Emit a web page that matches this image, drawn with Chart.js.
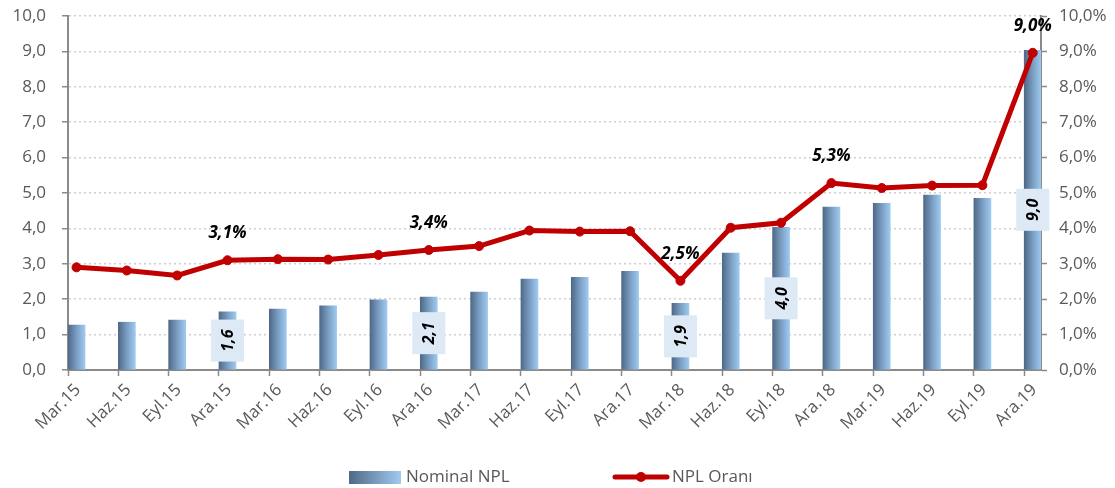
<!DOCTYPE html>
<html><head><meta charset="utf-8">
<script src="https://cdn.jsdelivr.net/npm/chart.js@4.4.1/dist/chart.umd.min.js"></script>
<style>html,body{margin:0;padding:0;background:#fff}#wrap{width:1115px;height:488px;position:relative}</style>
</head><body><div id="wrap"><canvas id="c" width="1115" height="488"></canvas></div>
<script>
const categories = ['Mar.15','Haz.15','Eyl.15','Ara.15','Mar.16','Haz.16','Eyl.16','Ara.16','Mar.17','Haz.17','Eyl.17','Ara.17','Mar.18','Haz.18','Eyl.18','Ara.18','Mar.19','Haz.19','Eyl.19','Ara.19'];
const nominalNPL = [1.27,1.35,1.41,1.64,1.72,1.81,1.98,2.06,2.20,2.57,2.62,2.79,1.88,3.30,4.03,4.60,4.71,4.94,4.85,9.03];
const nplRatio = [2.90,2.81,2.67,3.10,3.13,3.12,3.25,3.39,3.50,3.94,3.91,3.92,2.52,4.02,4.16,5.28,5.14,5.21,5.22,8.96];
const barLabelIdx = [3,7,12,14,19];
const lineLabelIdx = [3,7,12,15,19];
const leftTickLabels = ['0,0','1,0','2,0','3,0','4,0','5,0','6,0','7,0','8,0','9,0','10,0'];
const rightTickLabels = ['0,0%','1,0%','2,0%','3,0%','4,0%','5,0%','6,0%','7,0%','8,0%','9,0%','10,0%'];
const seriesNames = ['Nominal NPL','NPL Oranı'];

const BAR_OFFSET = 0.169;   // bars sit just right of each date tick
const X_MAX = 58 / 3;       // date axis: last quarter + one month
const RED = '#c00000';
const GRAY_TEXT = '#595959';
const AXIS = '#8a8a8a';
const fmt = v => v.toFixed(1).replace('.', ',');

Chart.defaults.font.family = '"Open Sans", sans-serif';
Chart.defaults.font.size = 17;
Chart.defaults.color = GRAY_TEXT;

function barGradient(ctx, x) {
  const g = ctx.createLinearGradient(x - 8.5, 0, x + 8.5, 0);
  g.addColorStop(0, '#4f6987');
  g.addColorStop(0.5, '#7a9dc2');
  g.addColorStop(1, '#9fcaf0');
  return g;
}

const labelPlugin = {
  id: 'labelsAndLegend',
  afterDatasetsDraw(chart) {
    const ctx = chart.ctx;
    const barMeta = chart.getDatasetMeta(0);
    const lineMeta = chart.getDatasetMeta(1);
    ctx.save();
    barLabelIdx.forEach(i => {
      const el = barMeta.data[i];
      const cx = el.x, cy = (el.y + el.base) / 2;
      ctx.fillStyle = '#dde9f5';
      ctx.fillRect(cx - 16.5, cy - 21, 33, 42);
      ctx.save();
      ctx.translate(cx, cy);
      ctx.rotate(-Math.PI / 2);
      ctx.fillStyle = '#000';
      ctx.font = 'italic bold 16px "Open Sans"';
      ctx.textAlign = 'center';
      ctx.textBaseline = 'middle';
      ctx.fillText(fmt(nominalNPL[i]), 0, 1);
      ctx.restore();
    });
    lineLabelIdx.forEach(i => {
      const el = lineMeta.data[i];
      ctx.fillStyle = '#000';
      ctx.font = 'italic bold 17px "Open Sans"';
      ctx.textAlign = 'center';
      ctx.textBaseline = 'middle';
      ctx.fillText(fmt(nplRatio[i]) + '%', el.x, el.y - 27);
    });
    ctx.restore();
  },
  afterDraw(chart) {
    const ctx = chart.ctx;
    ctx.save();
    const g = ctx.createLinearGradient(349, 0, 401, 0);
    g.addColorStop(0, '#4f6987');
    g.addColorStop(1, '#9fcaf0');
    ctx.fillStyle = g;
    ctx.fillRect(349, 471, 52, 13);
    ctx.font = '17px "Open Sans"';
    ctx.fillStyle = GRAY_TEXT;
    ctx.textBaseline = 'middle';
    ctx.textAlign = 'left';
    ctx.fillText(seriesNames[0], 406, 477);
    ctx.strokeStyle = RED;
    ctx.lineWidth = 5;
    ctx.lineCap = 'round';
    ctx.beginPath(); ctx.moveTo(615, 477); ctx.lineTo(667, 477); ctx.stroke();
    ctx.fillStyle = RED;
    ctx.beginPath(); ctx.arc(641, 477, 5, 0, Math.PI * 2); ctx.fill();
    ctx.fillStyle = GRAY_TEXT;
    ctx.fillText(seriesNames[1], 672, 477);
    ctx.restore();
  }
};

new Chart(document.getElementById('c'), {
  data: {
    datasets: [
      {
        type: 'bar',
        label: seriesNames[0],
        order: 2,
        data: nominalNPL.map((v, i) => ({x: i + BAR_OFFSET, y: v})),
        barThickness: 17,
        yAxisID: 'y',
        backgroundColor: (c) => {
          const chart = c.chart;
          if (!chart.chartArea || c.type !== 'data' || !chart.scales.x) return '#7a9dc2';
          const x = chart.scales.x.getPixelForValue(c.dataIndex + BAR_OFFSET);
          return barGradient(chart.ctx, x);
        }
      },
      {
        type: 'line',
        label: seriesNames[1],
        order: 1,
        data: nplRatio.map((v, i) => ({x: i + BAR_OFFSET, y: v})),
        yAxisID: 'y2',
        borderColor: RED,
        borderWidth: 5,
        tension: 0,
        pointRadius: 4.5,
        pointBackgroundColor: RED,
        pointBorderColor: RED,
        pointBorderWidth: 1
      }
    ]
  },
  options: {
    responsive: false,
    animation: false,
    devicePixelRatio: 1,
    layout: {padding: {top: 16, bottom: 38, left: 0, right: 0}},
    plugins: {legend: {display: false}, tooltip: {enabled: false}},
    scales: {
      x: {
        type: 'linear',
        offset: false,
        min: 0,
        max: X_MAX,
        afterBuildTicks: s => { s.ticks = categories.map((_, i) => ({value: i})); },
        afterFit: s => { s.height = 80; },
        ticks: {
          autoSkip: false,
          maxRotation: 45,
          minRotation: 45,
          padding: 4,
          labelOffset: 10,
          callback: v => categories[v],
          font: {size: 17}
        },
        grid: {offset: false, drawOnChartArea: false, drawTicks: true, tickLength: 6, tickColor: AXIS, tickWidth: 1.5},
        border: {display: true, color: AXIS, width: 2}
      },
      y: {
        position: 'left',
        min: 0, max: 10,
        afterBuildTicks: s => { s.ticks = leftTickLabels.map((_, i) => ({value: i})); },
        afterFit: s => { s.width = 68; s.paddingTop = 0; s.paddingBottom = 0; },
        ticks: {callback: v => leftTickLabels[v], padding: 16},
        grid: {color: '#cfcfcf', lineWidth: 1.5, tickLength: 6, tickColor: AXIS, tickWidth: 1.5, tickBorderDash: []},
        border: {display: true, color: AXIS, width: 2, dash: [2, 3]}
      },
      y2: {
        position: 'right',
        min: 0, max: 10,
        afterBuildTicks: s => { s.ticks = rightTickLabels.map((_, i) => ({value: i})); },
        afterFit: s => { s.width = 74; s.paddingTop = 0; s.paddingBottom = 0; },
        ticks: {callback: v => rightTickLabels[v], padding: 12},
        grid: {drawOnChartArea: false, tickLength: 6, tickColor: AXIS, tickWidth: 1.5},
        border: {display: true, color: AXIS, width: 2}
      }
    }
  },
  plugins: [labelPlugin]
});
</script></body></html>
